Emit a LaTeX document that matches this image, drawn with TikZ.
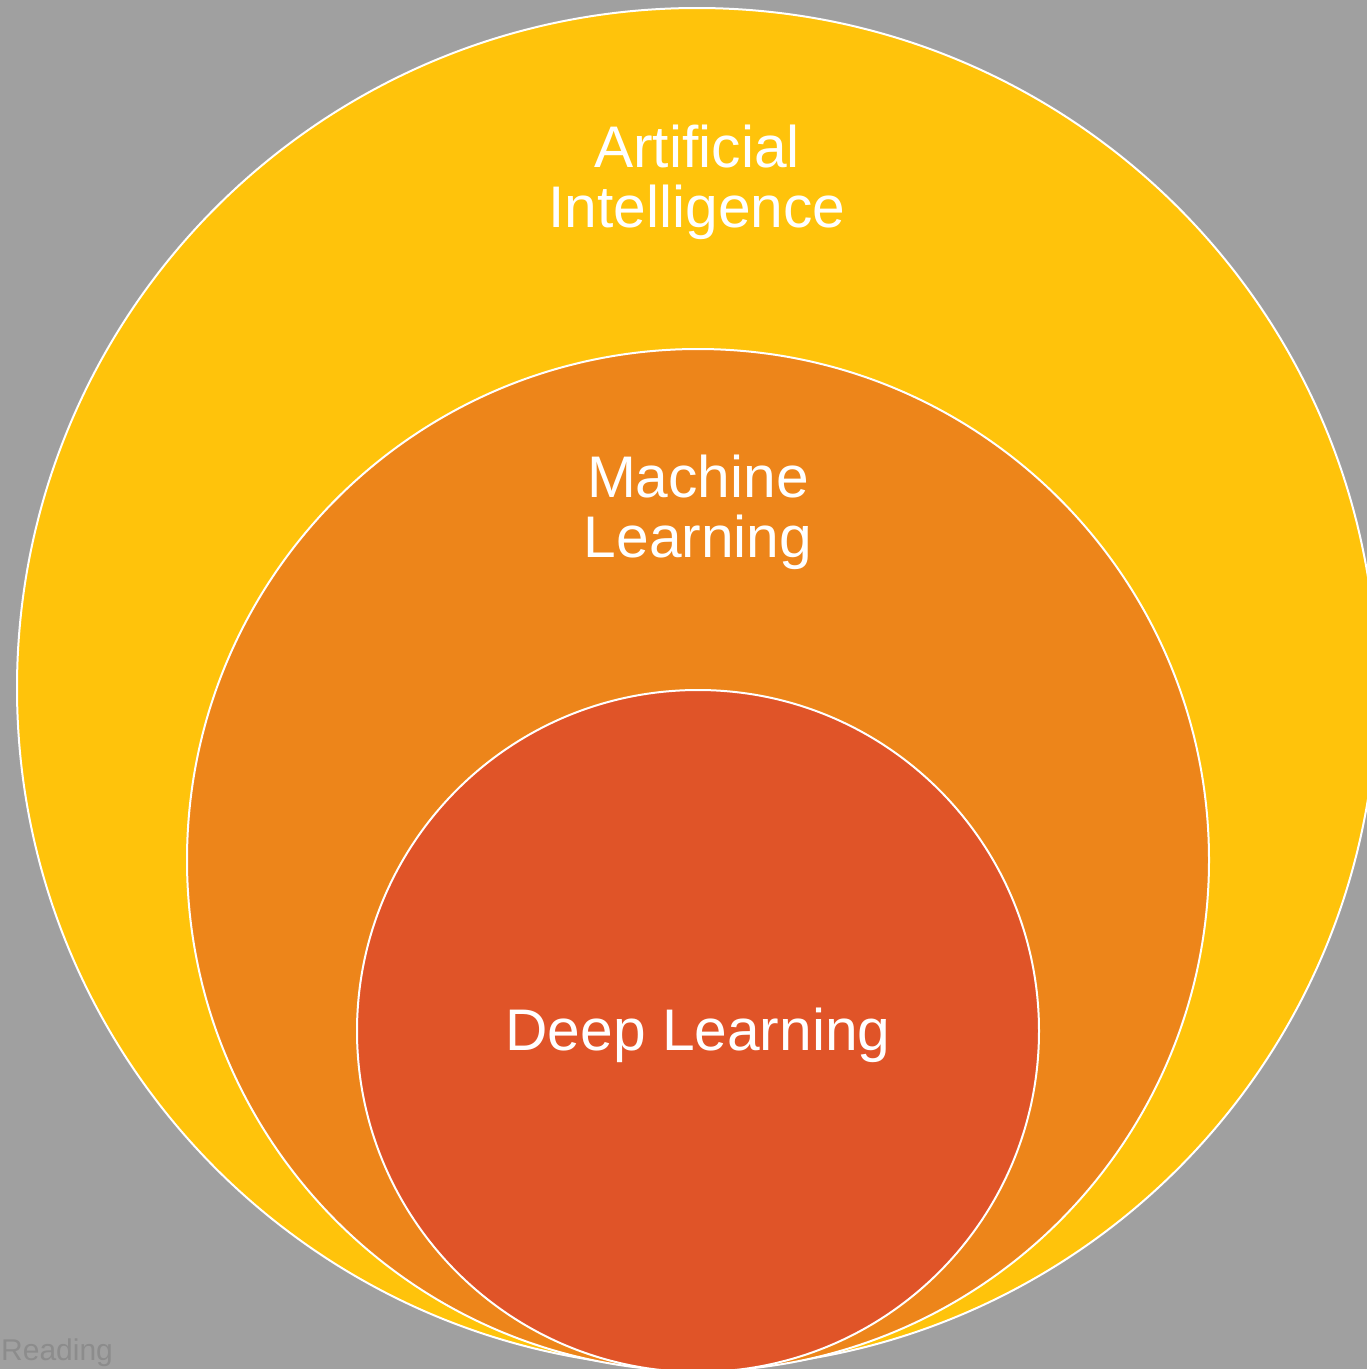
\documentclass[tikz,border=0pt]{standalone}
\usepackage{fontspec}
\setmainfont{Liberation Sans}
\usepackage{tikz}

\definecolor{bggray}{HTML}{A0A0A0}
\definecolor{aiyellow}{HTML}{FFC30B}
\definecolor{mlorange}{HTML}{ED851A}
\definecolor{dlred}{HTML}{E05428}
\definecolor{notegray}{HTML}{8C8C8C}

\begin{document}
\begin{tikzpicture}[x=1pt, y=-1pt,
        ring/.style = {draw=white, line width=2pt, circle, inner sep=0pt},
        title/.style = {text=white, align=center, inner sep=0pt,
                font=\fontsize{58.7}{60}\selectfont}]
                \useasboundingbox (0,0) rectangle (1367,1369);
                \fill[bggray] (0,0) rectangle (1367,1369);
                \clip (0,0) rectangle (1367,1369);

                \node[text=notegray, anchor=base west, inner sep=0pt,
                        font=\fontsize{30}{33}\selectfont] at (1, 1360) (note) {Reading};

                \node[ring, fill=aiyellow, minimum size=1360pt] at (697, 688) (ai) {};
                \node[ring, fill=mlorange, minimum size=1022pt] at (698, 860) (ml) {};
                \node[ring, fill=dlred, minimum size=682pt] at (698, 1031) (dl) {};

                \node[title, anchor=base] at (697, 227) (ailabel) {Artificial\\Intelligence};
                \node[title, anchor=base] at (698, 557) (mllabel) {Machine\\Learning};
                \node[title, anchor=base] at (698, 1050) (dllabel) {Deep Learning};
            \end{tikzpicture}
\end{document}
